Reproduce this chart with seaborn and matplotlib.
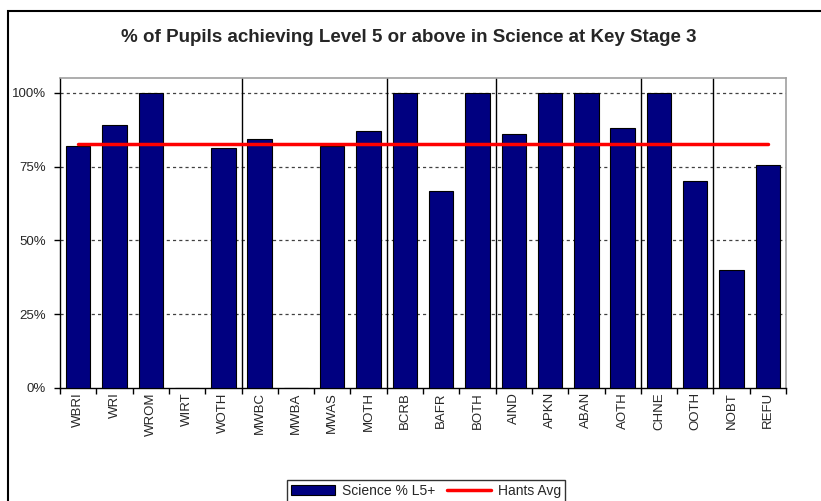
import numpy as np
import matplotlib
matplotlib.use("Agg")
import matplotlib.pyplot as plt
import seaborn as sns
from matplotlib.patches import Rectangle, Patch
from matplotlib.lines import Line2D
from matplotlib.ticker import FuncFormatter, FixedLocator

# ── Data ──────────────────────────────────────────────────────────────────────
categories = ["WBRI", "WRI", "WROM", "WIRT", "WOTH",
              "MWBC", "MWBA", "MWAS", "MOTH",
              "BCRB", "BAFR", "BOTH",
              "AIND", "APKN", "ABAN", "AOTH",
              "CHNE", "OOTH",
              "NOBT", "REFU"]
science_l5 = [0.819, 0.891, 1.0, 0.0, 0.813,
              0.845, 0.0, 0.818, 0.871,
              1.0, 0.667, 1.0,
              0.86, 1.0, 1.0, 0.882,
              1.0, 0.70,
              0.40, 0.755]
group_sizes = [5, 4, 3, 4, 2, 2]
hants_avg = 0.826

title = "% of Pupils achieving Level 5 or above in Science at Key Stage 3"

# ── Figure ────────────────────────────────────────────────────────────────────
sns.set_style("white")
plt.rcParams["font.family"] = ["Liberation Sans", "DejaVu Sans"]

fig = plt.figure(figsize=(8.21, 5.01), dpi=100)
ax = fig.add_axes([60 / 821, 1 - 388 / 501, 726 / 821, 310 / 501])

# outer chart border (runs off the right and bottom of the image)
fig.patches.append(Rectangle((8 / 821, -0.1), 1.2, 1.1 - 11 / 501,
                             transform=fig.transFigure, fill=False,
                             edgecolor="black", linewidth=1.5, zorder=0))

sns.barplot(x=categories, y=science_l5, color="#000080", saturation=1,
            width=0.67, edgecolor="black", linewidth=0.8, ax=ax, zorder=3)

x_idx = np.arange(len(categories))
ax.plot(x_idx, [hants_avg] * len(categories), color="#ff0000",
        linewidth=2.5, zorder=4)

# group separators
for b in np.cumsum(group_sizes)[:-1]:
    ax.axvline(b - 0.5, color="black", linewidth=1.0, zorder=2)

ax.set_xlim(-0.5, len(categories) - 0.5)
ax.set_ylim(0, 1.05)
ax.set_yticks([0, 0.25, 0.5, 0.75, 1.0])
ax.yaxis.set_major_formatter(FuncFormatter(lambda v, _: f"{v:.0%}"))
for y in [0.25, 0.5, 0.75, 1.0]:
    ax.axhline(y, color="#404040", linewidth=0.9, linestyle=(0, (2.5, 2.5)),
               zorder=1)

ax.tick_params(axis="x", which="major", length=0, pad=3, labelsize=9.5,
               labelrotation=90)
ax.xaxis.set_minor_locator(FixedLocator(np.arange(len(categories) + 1) - 0.5))
ax.tick_params(axis="x", which="minor", length=4, width=1, color="black",
               direction="out", bottom=True)
ax.tick_params(axis="y", length=4, width=1, color="black", direction="out",
               left=True, labelsize=9.5, pad=6)
for lab in ax.get_xticklabels():
    lab.set_verticalalignment("top")

for side in ["top", "right"]:
    ax.spines[side].set_color("#a0a0a0")
    ax.spines[side].set_linewidth(1.2)
for side in ["left", "bottom"]:
    ax.spines[side].set_color("black")
    ax.spines[side].set_linewidth(1.0)

fig.text(0.5 * (112 + 705) / 821, 1 - 37 / 501, title, ha="center",
         va="center", fontsize=13.5, fontweight="bold")

handles = [Patch(facecolor="#000080", edgecolor="black", linewidth=0.8),
           Line2D([0], [0], color="#ff0000", linewidth=2.5)]
leg = fig.legend(handles, ["Science % L5+", "Hants Avg"], ncol=2,
                 loc="center", bbox_to_anchor=(426 / 821, 1 - 491 / 501),
                 frameon=True, fancybox=False, fontsize=10,
                 handlelength=3.2, handleheight=0.8, columnspacing=0.8,
                 handletextpad=0.5, borderpad=0.3)
leg.get_frame().set_edgecolor("black")
leg.get_frame().set_linewidth(1.0)

fig.savefig("out.png", dpi=100)
